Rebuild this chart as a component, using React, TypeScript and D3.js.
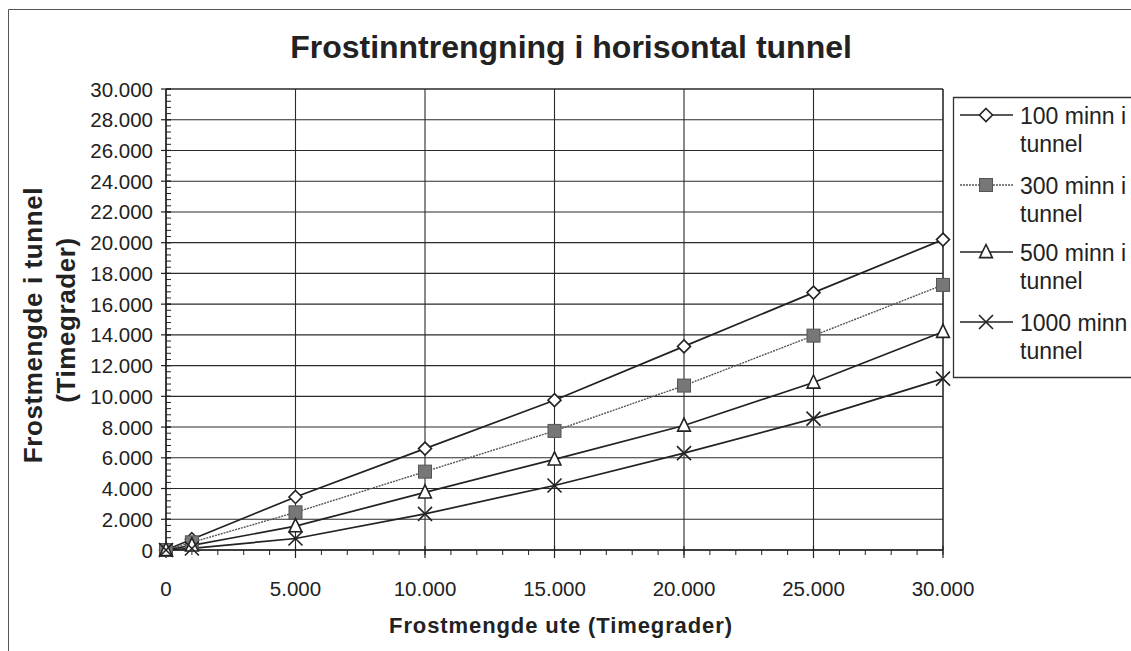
import React from "react";
import * as d3 from "d3";

const xValues = [0, 1000, 5000, 10000, 15000, 20000, 25000, 30000];
const series100 = [0, 700, 3450, 6600, 9750, 13250, 16750, 20200];
const series300 = [0, 500, 2450, 5100, 7750, 10700, 13950, 17250];
const series500 = [0, 300, 1550, 3750, 5900, 8100, 10900, 14200];
const series1000 = [0, 100, 750, 2350, 4200, 6300, 8550, 11150];
const seriesNames = ["100 minn i tunnel", "300 minn i tunnel", "500 minn i tunnel", "1000 minn tunnel"];
const legendLines = [["100 minn i", "tunnel"], ["300 minn i", "tunnel"], ["500 minn i", "tunnel"], ["1000 minn", "tunnel"]];
const xTicks = [0, 5000, 10000, 15000, 20000, 25000, 30000];
const yTicks = d3.range(0, 30001, 2000);

const title = "Frostinntrengning i horisontal tunnel";
const xTitle = "Frostmengde ute (Timegrader)";
const yTitle1 = "Frostmengde i tunnel";
const yTitle2 = "(Timegrader)";

const FONT = "'Liberation Sans', Arial, sans-serif";
const fmt = (v: number) => (v === 0 ? "0" : d3.format(",")(v).replace(/,/g, "."));

function Marker({ kind, x, y }: { kind: number; x: number; y: number }) {
  if (kind === 0) {
    const s = 6.5;
    return (
      <path
        d={`M${x},${y - s}L${x + s},${y}L${x},${y + s}L${x - s},${y}Z`}
        fill="#fff"
        stroke="#222"
        strokeWidth={1.6}
      />
    );
  }
  if (kind === 1) {
    const s = 6.5;
    return <rect x={x - s} y={y - s} width={2 * s} height={2 * s} fill="#777" stroke="#555" strokeWidth={1} />;
  }
  if (kind === 2) {
    const s = 7.5;
    return (
      <path
        d={`M${x},${y - s}L${x + s * 0.85},${y + s * 0.75}L${x - s * 0.85},${y + s * 0.75}Z`}
        fill="#fff"
        stroke="#222"
        strokeWidth={1.6}
      />
    );
  }
  const s = 7;
  return (
    <path
      d={`M${x - s},${y - s}L${x + s},${y + s}M${x - s},${y + s}L${x + s},${y - s}`}
      stroke="#222"
      strokeWidth={1.6}
      fill="none"
    />
  );
}

export default function App() {
  const W = 1131;
  const H = 651;
  const left = 166;
  const right = 943;
  const top = 89;
  const bottom = 550;
  const x = d3.scaleLinear().domain([0, 30000]).range([left, right]);
  const y = d3.scaleLinear().domain([0, 30000]).range([bottom, top]);
  const allSeries = [series100, series300, series500, series1000];
  const line = d3
    .line<number>()
    .x((_, i) => x(xValues[i]))
    .y((d) => y(d));
  const minorX = d3.range(0, 30001, 1000);
  const minorY = d3.range(0, 30001, 400);
  const legendY = [115, 185, 252, 322];

  return (
    <svg
      width={W}
      height={H}
      style={{ position: "absolute", left: 0, top: 0, background: "#fff" }}
      fontFamily={FONT}
    >
      <rect x={0} y={0} width={W} height={H} fill="#fff" />
      {/* outer frame */}
      <path d={`M8.5,${H}L8.5,9.5L${W},9.5`} fill="none" stroke="#555" strokeWidth={1} />

      <text x={571} y={58} textAnchor="middle" fontSize={32} fontWeight="bold" fill="#222">
        {title}
      </text>

      {/* grid */}
      {yTicks.map((t) => (
        <line key={"gy" + t} x1={left} x2={right} y1={y(t)} y2={y(t)} stroke="#2a2a2a" strokeWidth={1.1} />
      ))}
      {xTicks.map((t) => (
        <line key={"gx" + t} x1={x(t)} x2={x(t)} y1={top} y2={bottom} stroke="#2a2a2a" strokeWidth={1.1} />
      ))}
      <line x1={right} x2={right} y1={top} y2={bottom} stroke="#2a2a2a" strokeWidth={1.1} />
      <line x1={left} x2={right} y1={top} y2={top} stroke="#2a2a2a" strokeWidth={1.1} />

      {/* axes */}
      <line x1={left} x2={left} y1={top} y2={bottom} stroke="#222" strokeWidth={1.5} />
      <line x1={left} x2={right} y1={bottom} y2={bottom} stroke="#222" strokeWidth={1.5} />
      {minorY.map((t) => (
        <line key={"my" + t} x1={left} x2={left + 5} y1={y(t)} y2={y(t)} stroke="#222" strokeWidth={1} />
      ))}
      {yTicks.map((t) => (
        <line key={"ty" + t} x1={left - 5} x2={left + 5} y1={y(t)} y2={y(t)} stroke="#222" strokeWidth={1.2} />
      ))}
      {minorX.map((t) => (
        <line key={"mx" + t} x1={x(t)} x2={x(t)} y1={bottom} y2={bottom + 5} stroke="#222" strokeWidth={1} />
      ))}
      {xTicks.map((t) => (
        <line key={"tx" + t} x1={x(t)} x2={x(t)} y1={bottom - 4} y2={bottom + 8} stroke="#222" strokeWidth={1.2} />
      ))}

      {yTicks.map((t) => (
        <text key={"ly" + t} x={153} y={y(t) + 7.5} textAnchor="end" fontSize={20.5} fill="#222">
          {fmt(t)}
        </text>
      ))}
      {xTicks.map((t) => (
        <text key={"lx" + t} x={x(t)} y={596} textAnchor="middle" fontSize={20.5} fill="#222">
          {fmt(t)}
        </text>
      ))}

      <text x={561} y={633} textAnchor="middle" fontSize={22} fontWeight="bold" letterSpacing={0.9} fill="#222">
        {xTitle}
      </text>
      <text transform="translate(42,325) rotate(-90)" textAnchor="middle" fontSize={26} fontWeight="bold" letterSpacing={0.6} fill="#222">
        {yTitle1}
      </text>
      <text transform="translate(75,320) rotate(-90)" textAnchor="middle" fontSize={26} fontWeight="bold" letterSpacing={0.6} fill="#222">
        {yTitle2}
      </text>

      {/* series */}
      {allSeries.map((s, i) => (
        <path
          key={"l" + i}
          d={line(s) || ""}
          fill="none"
          stroke={i === 1 ? "#555" : "#222"}
          strokeWidth={i === 1 ? 1.4 : 1.7}
          strokeDasharray={i === 1 ? "2 1" : undefined}
        />
      ))}
      {allSeries.map((s, i) =>
        s.map((v, j) => <Marker key={`m${i}-${j}`} kind={i} x={x(xValues[j])} y={y(v)} />)
      )}

      {/* legend */}
      <path d={`M953.5,97L953.5,377.5L${W},377.5`} fill="none" stroke="#333" strokeWidth={1.3} />
      <line x1={953} x2={W} y1={97.5} y2={97.5} stroke="#333" strokeWidth={1.3} />
      {seriesNames.map((name, i) => (
        <g key={"lg" + i}>
          <title>{name}</title>
          <line
            x1={960}
            x2={1013}
            y1={legendY[i]}
            y2={legendY[i]}
            stroke={i === 1 ? "#555" : "#222"}
            strokeWidth={1.6}
            strokeDasharray={i === 1 ? "2 1" : undefined}
          />
          <Marker kind={i} x={986} y={legendY[i]} />
          <text x={1020} y={legendY[i] + 9} fontSize={23} fill="#222">
            {legendLines[i][0]}
          </text>
          <text x={1020} y={legendY[i] + 37} fontSize={23} fill="#222">
            {legendLines[i][1]}
          </text>
        </g>
      ))}
    </svg>
  );
}
